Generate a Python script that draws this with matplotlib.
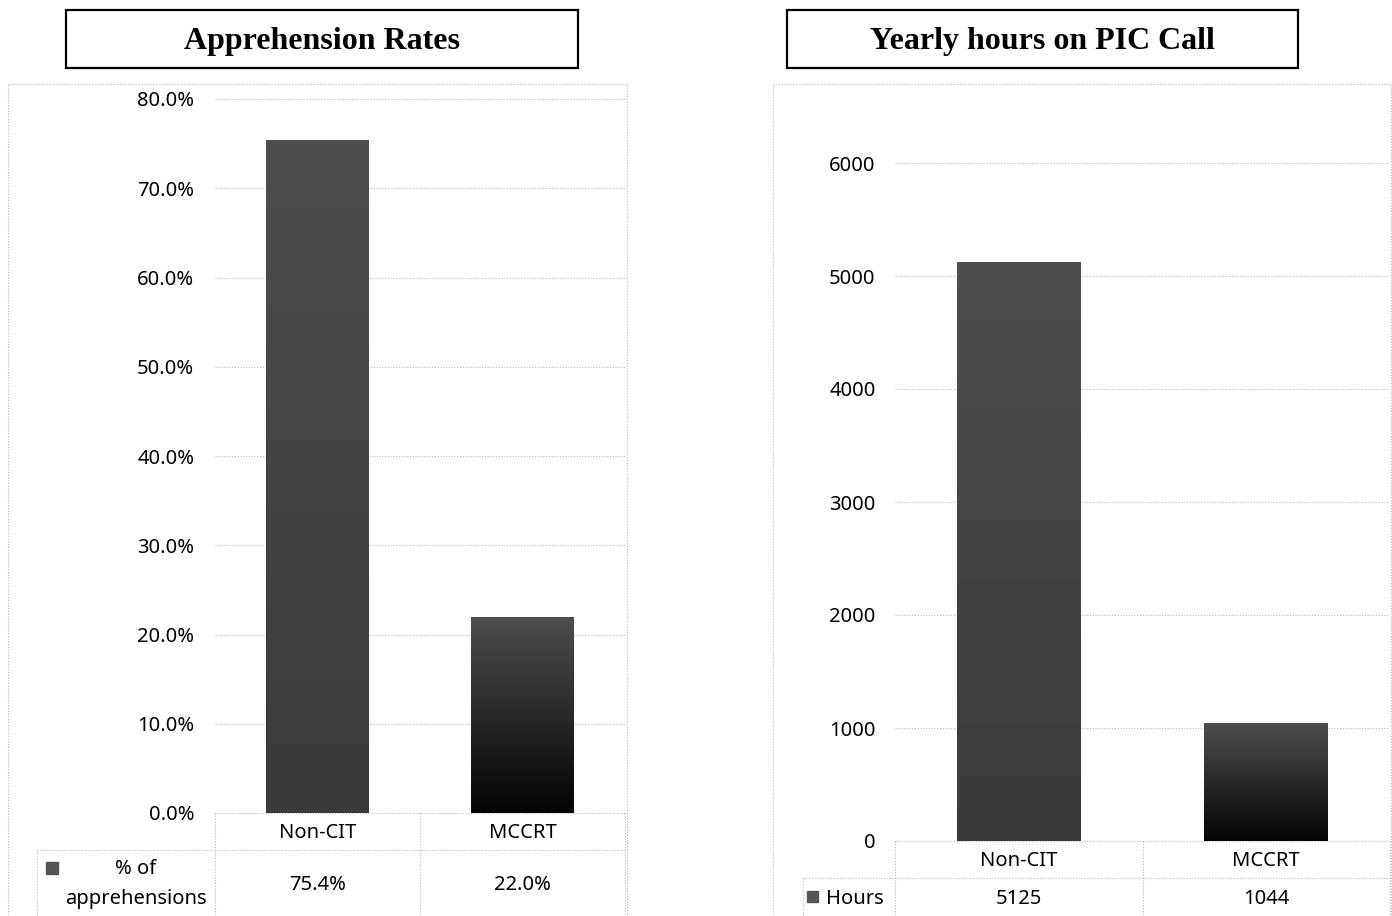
import matplotlib.pyplot as plt
import numpy as np
from matplotlib.colors import LinearSegmentedColormap
from matplotlib.patches import Rectangle
from matplotlib.transforms import blended_transform_factory

# data
categories = ['Non-CIT', 'MCCRT']
apprehension_pct = [75.4, 22.0]
pic_hours = [5125, 1044]
left_title = 'Apprehension Rates'
right_title = 'Yearly hours on PIC Call'
left_series = '% of\napprehensions'
right_series = 'Hours'

W, H = 1392, 916
LABEL_FONT = 'Noto Sans'
TITLE_FONT = 'Liberation Serif'
GRID = '#b8b8b8'
FS = 14.5
DOTS = (0, (1, 1.5))

fig = plt.figure(figsize=(W / 100, H / 100), dpi=100)

# full-size overlay in pixel coordinates for frames and the data tables
bg = fig.add_axes([0, 0, 1, 1], zorder=0)
bg.set_xlim(0, W)
bg.set_ylim(H, 0)
bg.axis('off')


def px_rect(x0, y0, x1, y1):
    return [x0 / W, 1 - y1 / H, (x1 - x0) / W, (y1 - y0) / H]


def gradient_bars(ax, values, bottoms, top='#4e4e4e'):
    bars = ax.bar(range(len(values)), values, width=0.5, color=top, zorder=3)
    grad = np.linspace(0, 1, 256).reshape(-1, 1)
    for patch, bottom in zip(bars.patches, bottoms):
        cmap = LinearSegmentedColormap.from_list('g', [bottom, top])
        x, w, h = patch.get_x(), patch.get_width(), patch.get_height()
        im = ax.imshow(grad, extent=[x, x + w, 0, h], origin='lower',
                       aspect='auto', cmap=cmap, zorder=4)
        im.set_clip_path(patch)
    return bars


def panel(title, frame, title_box, plot_box, values, ymax, ystep, fmt,
          bottoms, table_rows, label_col, legend_sq, value_y, tick_pad):
    # dotted outer frame of the chart
    fx0, fy0, fx1, fy1 = frame
    bg.add_patch(Rectangle((fx0, fy0), fx1 - fx0, fy1 - fy0, fill=False,
                           ec=GRID, lw=0.8, ls=DOTS))
    # title box
    tx0, ty0, tx1, ty1 = title_box
    bg.add_patch(Rectangle((tx0, ty0), tx1 - tx0, ty1 - ty0, fill=False,
                           ec='black', lw=1.6))
    bg.text((tx0 + tx1) / 2, (ty0 + ty1) / 2 + 2, title,
            fontfamily=TITLE_FONT, fontweight='bold', fontsize=23,
            ha='center', va='center')

    ax = fig.add_axes(px_rect(*plot_box), zorder=1)
    ax.patch.set_alpha(0)
    gradient_bars(ax, values, bottoms)
    ax.set_xlim(-0.5, len(values) - 0.5)
    ax.set_ylim(0, ymax)
    ax.set_yticks(np.arange(0, ymax + ystep / 2, ystep))
    ax.yaxis.set_major_formatter(plt.FuncFormatter(lambda v, p: fmt.format(v)))
    ax.set_xticks([])
    ax.tick_params(axis='y', length=0, pad=tick_pad, labelsize=FS)
    for lab in ax.get_yticklabels():
        lab.set_fontfamily(LABEL_FONT)
    ax.grid(axis='y', color=GRID, lw=0.8, ls=DOTS, zorder=0)
    for s in ax.spines.values():
        s.set_visible(False)

    # data table under the plot, columns follow the category axis
    tr = blended_transform_factory(ax.transData, bg.transData)
    top, mid, bot = table_rows
    n = len(values)
    xr = bg.transData.inverted().transform(ax.transData.transform((n - 0.5, 0)))[0]
    bg.plot([-0.5, n - 0.5], [top, top], transform=tr, color=GRID, lw=0.8, ls=DOTS)
    bg.plot([label_col, xr], [mid, mid], color=GRID, lw=0.8, ls=DOTS)
    for i in range(n + 1):
        bg.plot([i - 0.5, i - 0.5], [top, bot], transform=tr, color=GRID,
                lw=0.8, ls=DOTS)
    bg.plot([label_col, label_col], [mid, bot], color=GRID, lw=0.8, ls=DOTS)
    for i, (cat, v) in enumerate(zip(categories, values)):
        bg.text(i, (top + mid) / 2 + 2, cat, transform=tr, ha='center',
                va='center', fontsize=FS, fontfamily=LABEL_FONT)
        bg.text(i, value_y, fmt.format(v), transform=tr, ha='center',
                va='center', fontsize=FS, fontfamily=LABEL_FONT)
    sx, sy, ss = legend_sq
    bg.add_patch(Rectangle((sx, sy), ss, ss, color='#555555'))
    return ax


panel(left_title, frame=(8, 84, 627, 930), title_box=(66, 10, 578, 68),
      plot_box=(215, 99, 625, 813), values=apprehension_pct, ymax=80,
      ystep=10, fmt='{:.1f}%', bottoms=['#3a3a3a', '#040404'],
      table_rows=(813, 850, 930), label_col=37, legend_sq=(46, 862, 12),
      value_y=885, tick_pad=15)
bg.text(136, 884, left_series, ha='center', va='center', fontsize=FS,
        fontfamily=LABEL_FONT, linespacing=1.7)

panel(right_title, frame=(773, 84, 1391, 930), title_box=(787, 10, 1298, 68),
      plot_box=(895, 163, 1390, 841), values=pic_hours, ymax=6000,
      ystep=1000, fmt='{:.0f}', bottoms=['#3a3a3a', '#040404'],
      table_rows=(841, 878, 916), label_col=803, legend_sq=(807, 891, 11),
      value_y=899, tick_pad=14)
bg.text(826, 899, right_series, ha='left', va='center', fontsize=FS,
        fontfamily=LABEL_FONT)

fig.savefig('out.png', dpi=100)
